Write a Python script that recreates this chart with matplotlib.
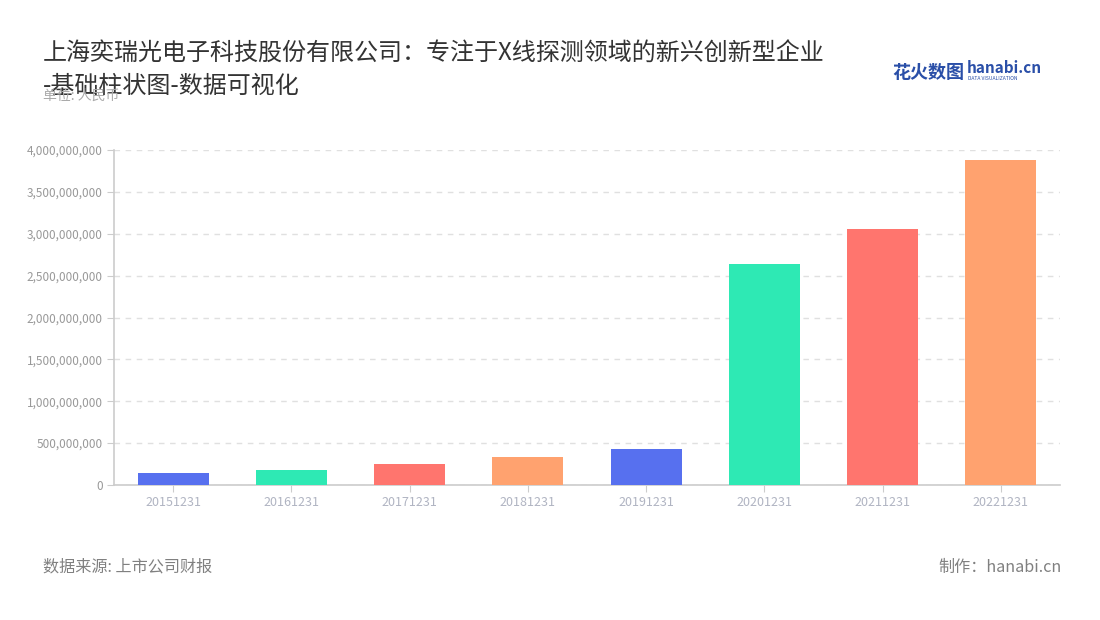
import numpy as np
import matplotlib
matplotlib.use("Agg")
import matplotlib.pyplot as plt
from matplotlib.ticker import FuncFormatter

plt.rcParams['font.family'] = ['Noto Sans CJK SC', 'DejaVu Sans']

# data
years = ["20151231", "20161231", "20171231", "20181231",
         "20191231", "20201231", "20211231", "20221231"]
revenue = [143e6, 179e6, 251e6, 331e6, 426e6, 2635e6, 3053e6, 3881e6]
colors = ["#5770EF", "#2EE9B4", "#FF756E", "#FFA26F"]

title = "上海奕瑞光电子科技股份有限公司：专注于X线探测领域的新兴创新型企业\n-基础柱状图-数据可视化"
unit = "单位: 人民币"
source = "数据来源: 上市公司财报"
maker = "制作：hanabi.cn"

fig = plt.figure(figsize=(11, 6.2), dpi=100)
ax = fig.add_axes([114/1100, 1 - 485/620, (1060 - 114)/1100, (485 - 150)/620])

x = np.arange(len(years))
bar_colors = [colors[i % len(colors)] for i in range(len(years))]
ax.bar(x, revenue, width=0.6, color=bar_colors, zorder=3)

ax.set_xlim(-0.5, len(years) - 0.5)
ax.set_ylim(0, 4e9)
ax.set_yticks(np.arange(0, 4.01e9, 5e8))
ax.yaxis.set_major_formatter(FuncFormatter(lambda v, p: f"{int(v):,}"))
ax.set_xticks(x)
ax.set_xticklabels(years)

ax.grid(axis="y", linestyle=(0, (4, 4)), color="#e0e0e0", linewidth=1, zorder=0)
for s in ["top", "right"]:
    ax.spines[s].set_visible(False)
for s in ["left", "bottom"]:
    ax.spines[s].set_color("#cccccc")
    ax.spines[s].set_linewidth(1.2)
ax.tick_params(axis="y", colors="#cccccc", labelcolor="#999999", labelsize=8.5, length=5, pad=3)
ax.tick_params(axis="x", colors="#cccccc", labelcolor="#b0b4c2", labelsize=9, length=5, pad=3)

fig.text(43/1100, 1 - 41/620, title, fontsize=17.3, color="#333333",
         va="top", ha="left", linespacing=1.3)
fig.text(43/1100, 1 - 96/620, unit, fontsize=10, color="#aaaaaa", va="center", ha="left")

fig.text(43/1100, 1 - 567/620, source, fontsize=11.6, color="#808080", va="center", ha="left")
fig.text(1062/1100, 1 - 567/620, maker, fontsize=11.6, color="#808080", va="center", ha="right")

# logo
fig.text(892/1100, 1 - 72/620, "花火数图", fontsize=13, color="#2a4fa8",
         fontweight="bold", va="center", ha="left")
fig.text(967/1100, 1 - 68/620, "hanabi.cn", fontsize=11, color="#2a4fa8",
         fontweight="bold", va="center", ha="left")
fig.text(968/1100, 1 - 79/620, "DATA VISUALIZATION", fontsize=3.6, color="#2a4fa8",
         va="center", ha="left")

fig.savefig("out.png", dpi=100)
